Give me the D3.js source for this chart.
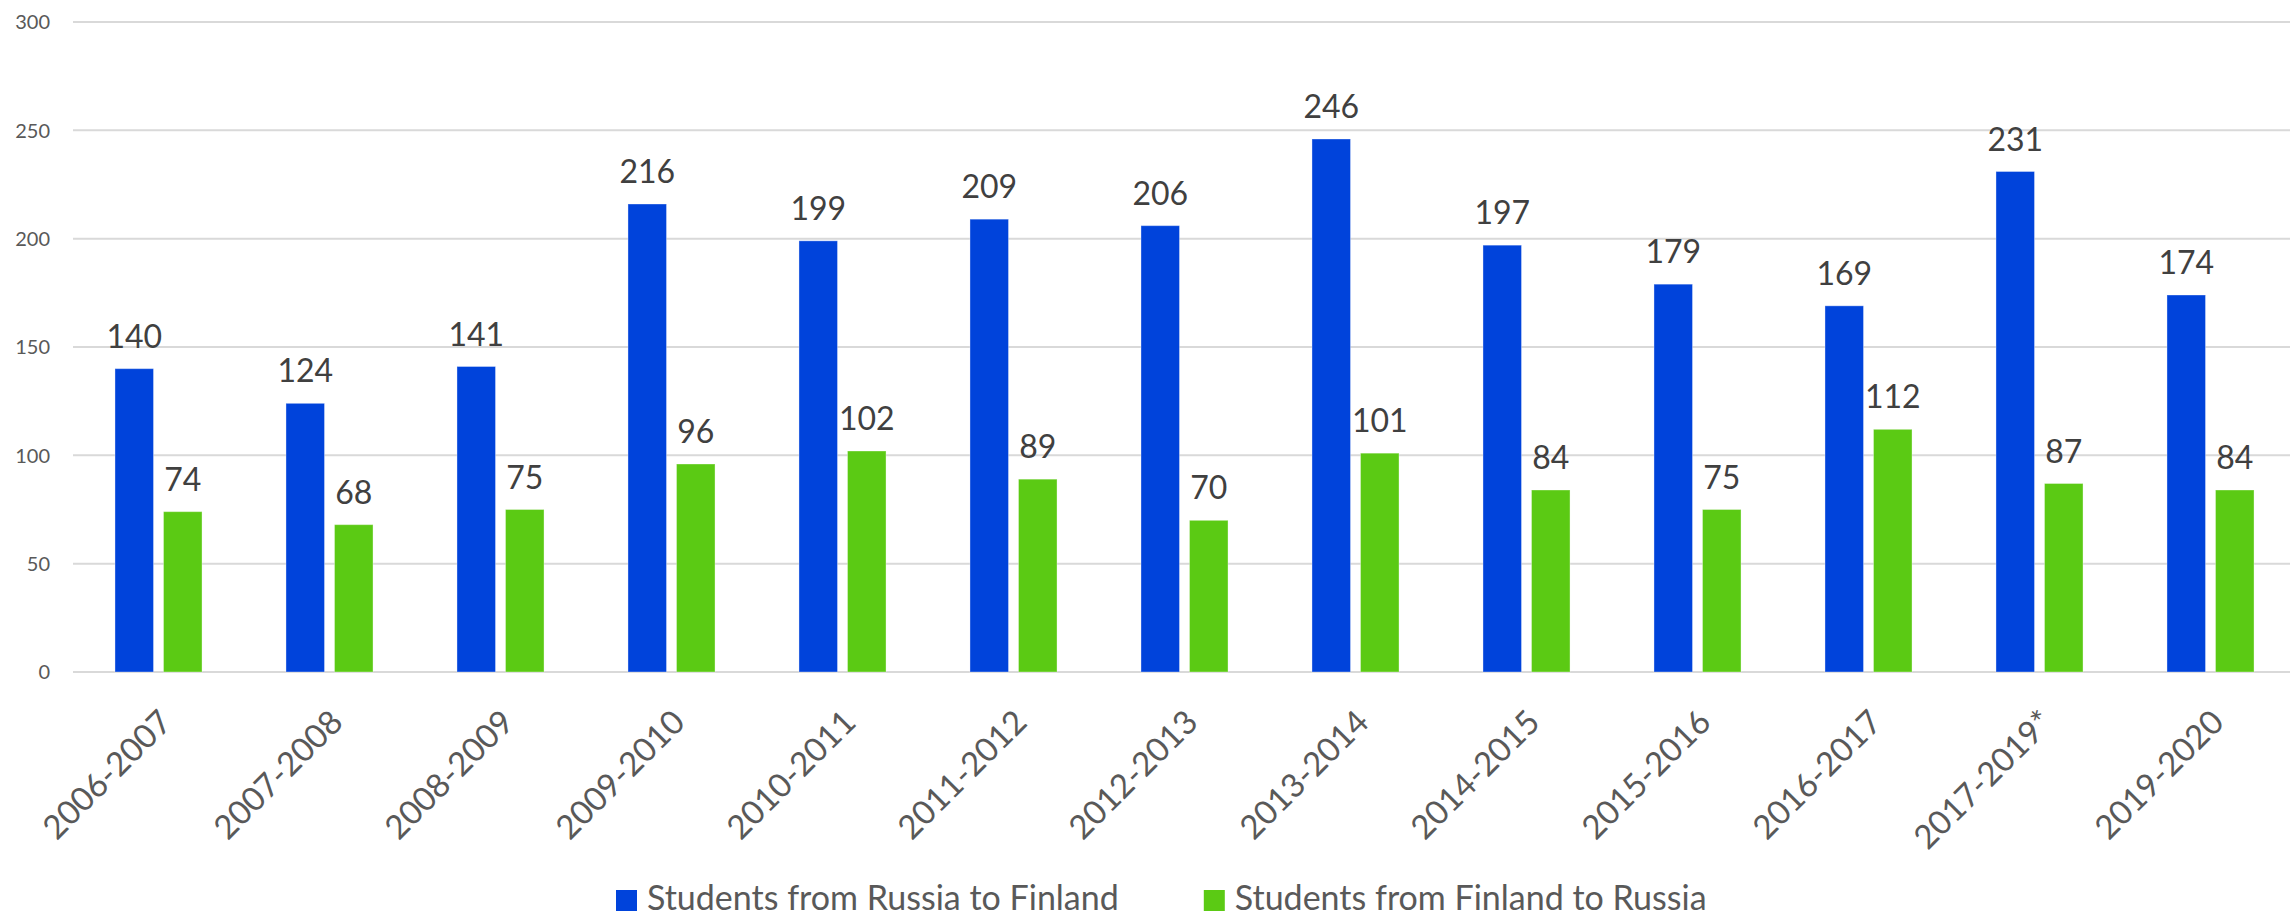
<!DOCTYPE html>
<html>
<head>
<meta charset="utf-8">
<script src="https://cdn.jsdelivr.net/npm/d3@7"></script>
<style>
  html, body { margin: 0; padding: 0; background: #fff; }
  svg { display: block; font-family: Lato, "Open Sans", sans-serif; }
</style>
</head>
<body>
<div id="chart"></div>
<script>
// chart data
const years = ["2006-2007", "2007-2008", "2008-2009", "2009-2010", "2010-2011", "2011-2012", "2012-2013",
  "2013-2014", "2014-2015", "2015-2016", "2016-2017", "2017-2019*", "2019-2020"]
const russiaToFinland = [140, 124, 141, 216, 199, 209, 206, 246, 197, 179, 169, 231, 174]
const finlandToRussia = [74, 68, 75, 96, 102, 89, 70, 101, 84, 75, 112, 87, 84]
const seriesNames = ["Students from Russia to Finland", "Students from Finland to Russia"]
const yTicks = [0, 50, 100, 150, 200, 250, 300]

const colors = ["#0043DB", "#5BCA14"]

const width = 2290,
  height = 920

const svg = d3.select("#chart").append("svg").attr("width", width).attr("height", height)

const x = d3.scaleBand().domain(years).range([73, 73 + 13 * 171]).paddingInner(0.491).paddingOuter(0.2455)
const xSub = d3.scaleBand().domain([0, 1]).range([0, x.bandwidth()]).paddingInner(0.206)
const y = d3.scaleLinear().domain([0, 300]).range([672, 22])

// gridlines
svg
  .append("g")
  .selectAll("line")
  .data(yTicks)
  .enter()
  .append("line")
  .attr("x1", 73)
  .attr("x2", width)
  .attr("y1", (d) => y(d))
  .attr("y2", (d) => y(d))
  .style("stroke", "#d9d9d9")
  .style("stroke-width", 2)

// y axis labels
svg
  .append("g")
  .selectAll("text")
  .data(yTicks)
  .enter()
  .append("text")
  .attr("x", 50)
  .attr("y", (d) => y(d))
  .attr("dy", "0.36em")
  .attr("text-anchor", "end")
  .style("font-size", "20px")
  .style("fill", "#595959")
  .text((d) => d)

// bars
const rows = years.map((yr, i) => ({ year: yr, values: [russiaToFinland[i], finlandToRussia[i]] }))

const group = svg
  .append("g")
  .selectAll("g")
  .data(rows)
  .enter()
  .append("g")
  .attr("transform", (d) => `translate(${x(d.year)},0)`)

group
  .selectAll("rect")
  .data((d) => d.values.map((v, s) => ({ v, s })))
  .enter()
  .append("rect")
  .attr("x", (d) => xSub(d.s))
  .attr("width", xSub.bandwidth())
  .attr("y", (d) => y(d.v))
  .attr("height", (d) => y(0) - y(d.v))
  .attr("fill", (d) => colors[d.s])
  .style("stroke", "rgba(255,255,255,0.35)")
  .style("stroke-width", 1)

// value labels
group
  .selectAll("text")
  .data((d) => d.values.map((v, s) => ({ v, s })))
  .enter()
  .append("text")
  .attr("x", (d) => xSub(d.s) + xSub.bandwidth() / 2)
  .attr("y", (d) => y(d.v) - 21)
  .attr("text-anchor", "middle")
  .style("font-size", "32px")
  .style("fill", "#404040")
  .text((d) => d.v)

// rotated category labels
svg
  .append("g")
  .selectAll("text")
  .data(years)
  .enter()
  .append("text")
  .attr("text-anchor", "end")
  .attr("dominant-baseline", "central")
  .attr("transform", (d) => `translate(${x(d) + x.bandwidth() / 2 + 6},715) rotate(-45)`)
  .style("font-size", "33px")
  .style("fill", "#595959")
  .text((d) => d)

// legend
const legend = svg.append("g")
let lx = 616
seriesNames.forEach((name, i) => {
  legend.append("rect").attr("x", lx).attr("y", 890).attr("width", 21).attr("height", 21).attr("fill", colors[i])
  const t = legend
    .append("text")
    .attr("x", lx + 31)
    .attr("y", 910)
    .style("font-size", "34px")
    .style("fill", "#595959")
    .text(name)
  lx += 31 + t.node().getComputedTextLength() + 85
})
</script>
</body>
</html>
